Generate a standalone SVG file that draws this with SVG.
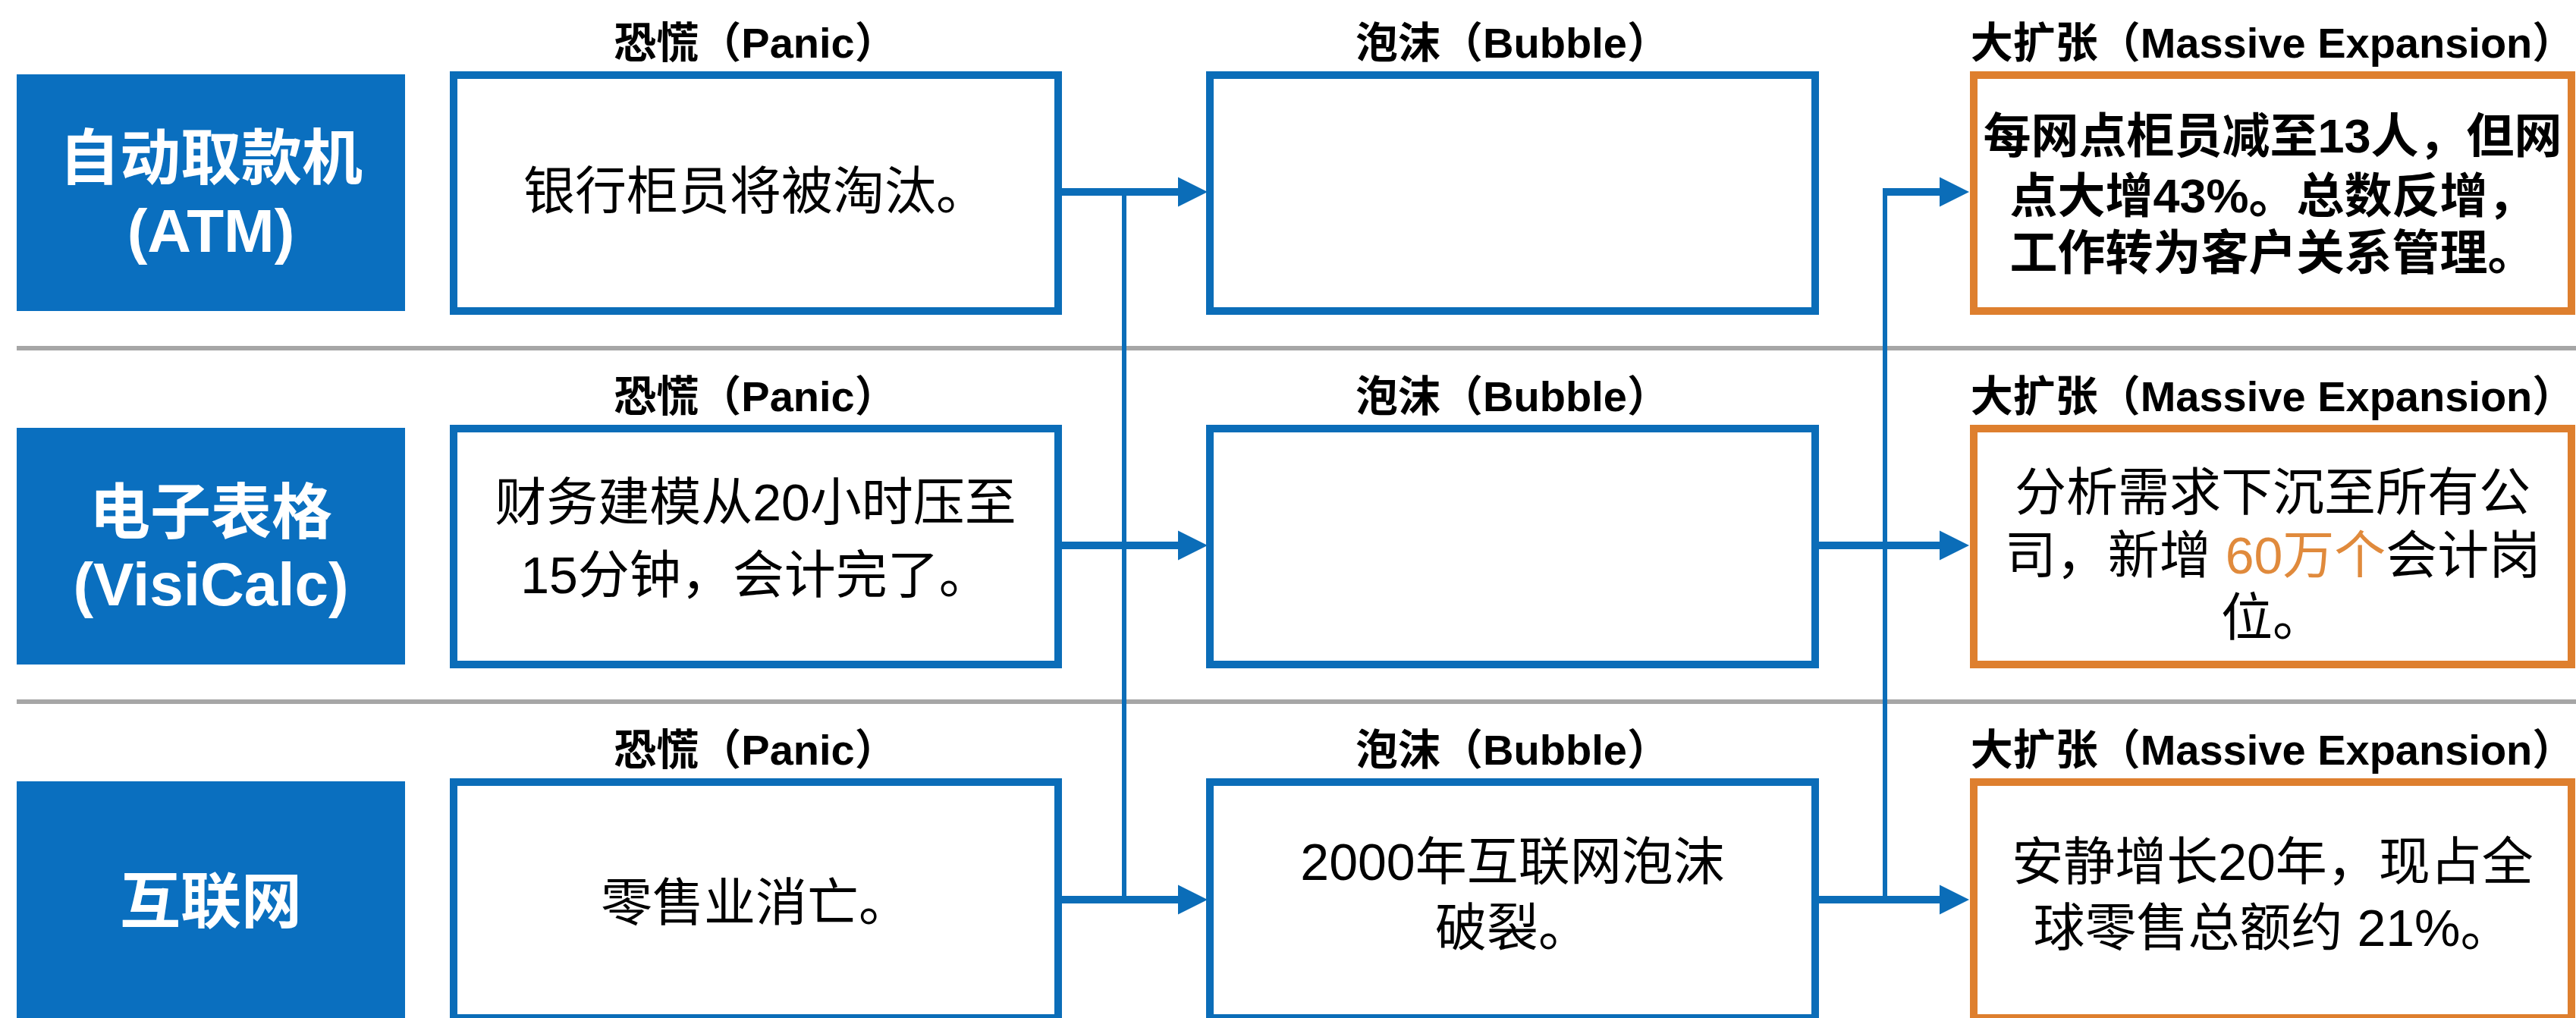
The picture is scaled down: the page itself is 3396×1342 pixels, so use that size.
<svg xmlns="http://www.w3.org/2000/svg" width="3396" height="1342" viewBox="0 0 3396 1342">
<style>
  text { font-family: "Liberation Sans", "Noto Sans CJK SC", sans-serif; text-anchor: middle; fill: #000; }
  .title { font-size: 56px; font-weight: 700; }
  .body { font-size: 68px; font-weight: 400; }
  .bodyb { font-size: 63px; font-weight: 700; }
  .lab { font-size: 80px; font-weight: 700; fill: #fff; }
  .labbox { fill: #0A6FBF; }
  .box { fill: #fff; stroke: #0B6DB8; stroke-width: 10; }
  .obox { fill: #fff; stroke: #DE7F2E; stroke-width: 10; }
  .sep { stroke: #A6A6A6; stroke-width: 6; }
  .conn { stroke: #0B6DB8; stroke-width: 10; fill: none; }
  .bus { stroke: #0B6DB8; stroke-width: 6; fill: none; }
  .hl { fill: #E08A3C; }
</style>
<defs>
  <marker id="ah" viewBox="0 0 10 10" refX="0" refY="5" markerUnits="userSpaceOnUse" markerWidth="39" markerHeight="40" orient="auto">
    <path d="M0,0 L10,5 L0,10 z" fill="#0B6DB8"/>
  </marker>
</defs>
<rect x="0" y="0" width="3396" height="1342" fill="#fff"/>
<g id="separators">
  <line class="sep" x1="22" y1="459" x2="3396" y2="459"/>
  <line class="sep" x1="22" y1="925" x2="3396" y2="925"/>
</g>
<!-- Row 1 -->
<g id="label-atm">
  <rect class="labbox" x="22" y="98" width="512" height="312"/>
  <text class="lab" x="278" y="236">自动取款机<tspan x="278" y="332">(ATM)</tspan></text>
</g>
<g id="panic-atm">
  <text class="title" x="996" y="76">恐慌（Panic）</text>
  <rect class="box" x="598" y="99" width="797" height="311"/>
  <text class="body" x="996" y="276">银行柜员将被淘汰。</text>
</g>
<g id="bubble-atm">
  <text class="title" x="1994" y="76">泡沫（Bubble）</text>
  <rect class="box" x="1595" y="99" width="798" height="311"/>
</g>
<g id="expansion-atm">
  <text class="title" x="2996" y="76">大扩张（Massive Expansion）</text>
  <rect class="obox" x="2602" y="99" width="788" height="311"/>
  <text class="bodyb" x="2996" y="201">每网点柜员减至13人，但网<tspan x="2996" y="280">点大增43%。总数反增，</tspan><tspan x="2996" y="355">工作转为客户关系管理。</tspan></text>
</g>
<!-- Row 2 -->
<g id="label-visicalc">
  <rect class="labbox" x="22" y="564" width="512" height="312"/>
  <text class="lab" x="278" y="703">电子表格<tspan x="278" y="798">(VisiCalc)</tspan></text>
</g>
<g id="panic-visicalc">
  <text class="title" x="996" y="542">恐慌（Panic）</text>
  <rect class="box" x="598" y="565" width="797" height="311"/>
  <text class="body" x="996" y="686">财务建模从20小时压至<tspan x="996" y="782">15分钟，会计完了。</tspan></text>
</g>
<g id="bubble-visicalc">
  <text class="title" x="1994" y="542">泡沫（Bubble）</text>
  <rect class="box" x="1595" y="565" width="798" height="311"/>
</g>
<g id="expansion-visicalc">
  <text class="title" x="2996" y="542">大扩张（Massive Expansion）</text>
  <rect class="obox" x="2602" y="565" width="788" height="311"/>
  <text class="body" x="2996" y="673">分析需求下沉至所有公<tspan x="2996" y="756">司，新增 <tspan class="hl">60万个</tspan>会计岗</tspan><tspan x="2996" y="838">位。</tspan></text>
</g>
<!-- Row 3 -->
<g id="label-internet">
  <rect class="labbox" x="22" y="1030" width="512" height="320"/>
  <text class="lab" x="278" y="1216">互联网</text>
</g>
<g id="panic-internet">
  <text class="title" x="996" y="1008">恐慌（Panic）</text>
  <rect class="box" x="598" y="1031" width="797" height="311"/>
  <text class="body" x="996" y="1214">零售业消亡。</text>
</g>
<g id="bubble-internet">
  <text class="title" x="1994" y="1008">泡沫（Bubble）</text>
  <rect class="box" x="1595" y="1031" width="798" height="311"/>
  <text class="body" x="1994" y="1160">2000年互联网泡沫<tspan x="1994" y="1247">破裂。</tspan></text>
</g>
<g id="expansion-internet">
  <text class="title" x="2996" y="1008">大扩张（Massive Expansion）</text>
  <rect class="obox" x="2602" y="1031" width="788" height="311"/>
  <text class="body" x="2996" y="1160">安静增长20年，现占全<tspan x="2996" y="1247">球零售总额约 21%。</tspan></text>
</g>
<g id="connectors">
  <line class="bus" x1="1482" y1="253" x2="1482" y2="1186"/>
  <line class="bus" x1="2485" y1="253" x2="2485" y2="1186"/>
  <line class="conn" x1="1400" y1="253" x2="1553" y2="253" marker-end="url(#ah)"/>
  <line class="conn" x1="1400" y1="719" x2="1553" y2="719" marker-end="url(#ah)"/>
  <line class="conn" x1="1400" y1="1186" x2="1553" y2="1186" marker-end="url(#ah)"/>
  <line class="conn" x1="2482" y1="253" x2="2557" y2="253" marker-end="url(#ah)"/>
  <line class="conn" x1="2398" y1="719" x2="2557" y2="719" marker-end="url(#ah)"/>
  <line class="conn" x1="2398" y1="1186" x2="2557" y2="1186" marker-end="url(#ah)"/>
</g>
</svg>
